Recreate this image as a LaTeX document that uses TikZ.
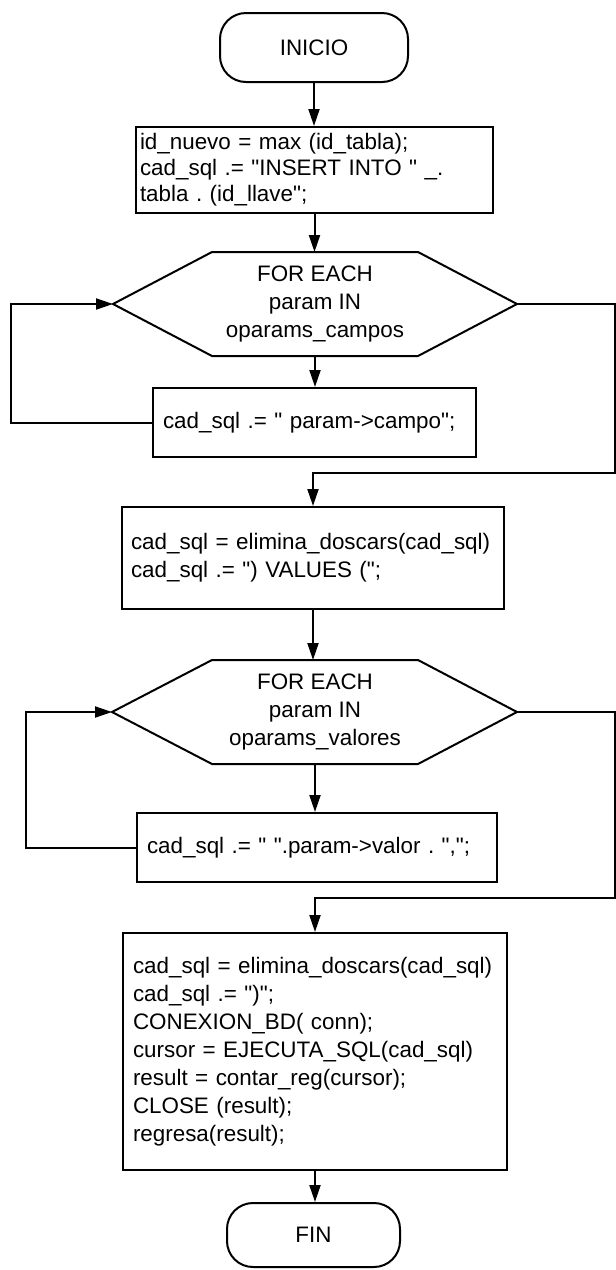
\documentclass[tikz,border=0pt]{standalone}
\usepackage{fontspec}
\setmainfont{Liberation Sans}[Ligatures=TeXOff]
\usetikzlibrary{arrows.meta}
\frenchspacing

\begin{document}
\begin{tikzpicture}[x=1pt, y=-1pt, line width=2pt, >={Triangle[length=17pt,width=11pt]},
  every node/.style={font=\fontsize{22.4}{28}\selectfont},
  terminal/.style={draw, rounded corners=26pt, inner sep=0pt},
  procbox/.style={draw, align=left, inner xsep=10pt, inner ysep=0pt},
  loopbox/.style={inner sep=0pt, align=center}]
\useasboundingbox (0,0) rectangle (616,1270);

\node[terminal, minimum width=188pt, minimum height=69pt] (inicio) at (314,47.5) {INICIO};
\node[procbox, inner xsep=4pt, text width=349pt, minimum height=86pt, font=\fontsize{22.4}{26}\selectfont] (b1) at (314.5,170) {id\_nuevo = max (id\_tabla);\\ cad\_sql .= "INSERT INTO " \_.\\ tabla . (id\_llave";};

\node[loopbox, minimum width=204pt, minimum height=102pt] (h1) at (315,304) {FOR EACH\\ param IN\\ oparams\_campos};
\coordinate (h1l) at (113,304);
\coordinate (h1r) at (517,304);
\draw (h1.north west) -- (h1.north east) -- (h1r) -- (h1.south east) -- (h1.south west) -- (h1l) -- cycle;

\node[procbox, text width=303pt, minimum height=69pt] (b2) at (314.5,422.5) {cad\_sql .= " param->campo";};
\node[procbox, inner xsep=9pt, text width=364pt, minimum height=102pt] (b3) at (313,558) {cad\_sql = elimina\_doscars(cad\_sql)\\ cad\_sql .= ") VALUES (";};

\node[loopbox, minimum width=204pt, minimum height=102pt] (h2) at (315,712) {FOR EACH\\ param IN\\ oparams\_valores};
\coordinate (h2l) at (112,712);
\coordinate (h2r) at (517,712);
\draw (h2.north west) -- (h2.north east) -- (h2r) -- (h2.south east) -- (h2.south west) -- (h2l) -- cycle;

\node[procbox, text width=340pt, minimum height=69pt] (b4) at (317,847.5) {cad\_sql .= " ".param->valor . ",";};
\node[procbox, text width=364pt, minimum height=237pt] (b5) at (315,1051.5) {cad\_sql = elimina\_doscars(cad\_sql)\\ cad\_sql .= ")";\\ CONEXION\_BD( conn);\\ cursor = EJECUTA\_SQL(cad\_sql)\\ result = contar\_reg(cursor);\\ CLOSE (result);\\ regresa(result);};
\node[terminal, minimum width=173pt, minimum height=64pt] (fin) at (313.5,1235) {FIN};

\draw[->] (inicio.south) -- (inicio.south |- b1.north);
\draw[->] (b1.south) -- (b1.south |- h1.north);
\draw[->] (h1.south) -- (h1.south |- b2.north);
\draw[->] (b3.south) -- (b3.south |- h2.north);
\draw[->] (h2.south) -- (h2.south |- b4.north);
\draw[->] (b5.south) -- (b5.south |- fin.north);

\coordinate (l1) at (11,304);
\draw[->] (b2.west) -| (l1) -- (h1l);
\coordinate (l2) at (26,712);
\draw[->] (b4.west) -| (l2) -- (h2l);

\coordinate (r1) at (614.5,473);
\draw[->] (h1r) -| (r1) -| (b3.north);
\coordinate (r2) at (614.5,898);
\draw[->] (h2r) -| (r2) -| (b5.north);
\end{tikzpicture}
\end{document}
